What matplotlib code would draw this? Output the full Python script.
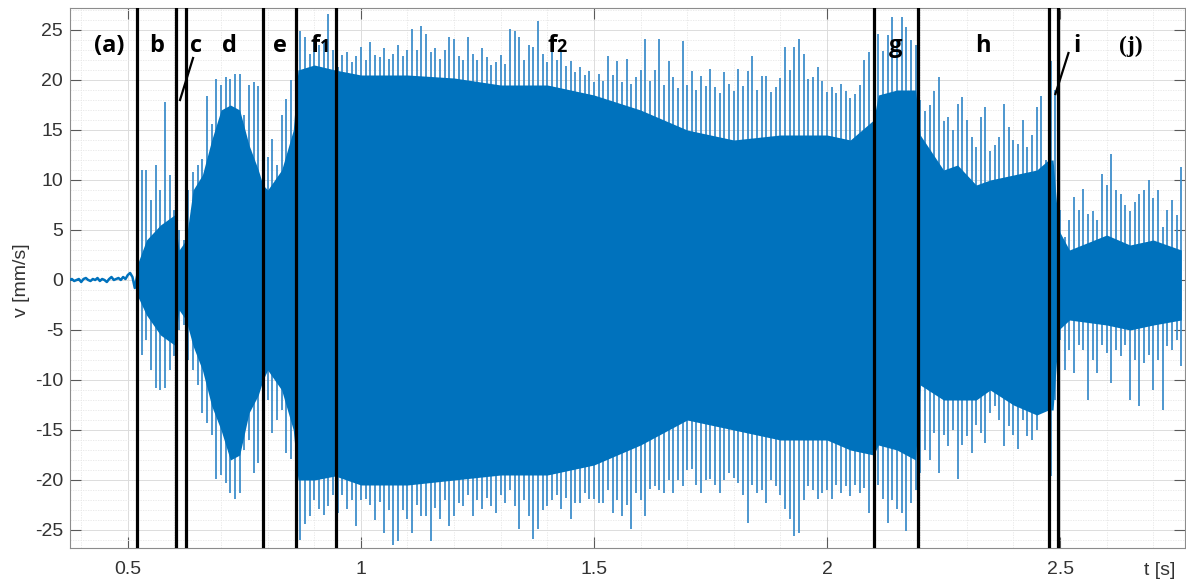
import numpy as np
import matplotlib
matplotlib.use("Agg")
import matplotlib.pyplot as plt
from matplotlib.ticker import MultipleLocator, FuncFormatter
import matplotlib.transforms as mtransforms

plt.rcParams['axes.unicode_minus'] = False

# ---- quiet lead-in (a) ----
t_quiet = np.linspace(0.375, 0.52, 30)
v_quiet = [0.0, 0.1, -0.1, 0.0, 0.1, -0.2, 0.1, 0.2, 0.0, -0.1,
           0.1, 0.0, 0.2, -0.1, 0.1, 0.0, -0.2, 0.1, 0.3, 0.0,
           0.1, 0.2, 0.0, 0.3, 0.1, 0.5, 0.7, 0.3, -0.8, 0.4]

# ---- peak velocities, one per 10 ms, from 0.52 s to 2.76 s ----
t_peak = np.round(np.arange(0.52, 2.765, 0.01), 2)
peak_up = [
    2.5, 11.0, 11.0, 8.0, 11.5, 9.0, 17.8, 10.5,
    7.0, 5.0, 4.0, 9.0, 10.8, 11.5, 12.1, 18.4, 15.6, 20.1,
    19.5, 20.3, 20.1, 20.6, 20.6, 16.5, 19.5, 19.8, 19.4, 13.0,
    12.3, 14.1, 11.5, 16.5, 18.1, 20.0, 23.0, 24.9, 24.3, 22.6,
    23.9, 23.5, 24.0, 26.6, 23.0, 21.3, 22.5, 22.8, 21.8, 22.4,
    23.3, 22.0, 23.8, 22.5, 22.3, 23.2, 22.1, 22.6, 23.5, 22.4,
    23.0, 25.1, 23.0, 25.4, 24.6, 22.8, 23.2, 22.1, 23.0, 24.3,
    24.1, 22.4, 22.0, 24.3, 22.6, 22.0, 23.2, 22.3, 21.5, 21.8,
    22.5, 21.6, 25.1, 24.9, 24.3, 22.0, 23.5, 23.3, 25.9, 22.6,
    21.8, 23.3, 22.0, 22.9, 21.4, 21.9, 20.8, 21.3, 20.5, 20.9,
    19.8, 20.6, 19.9, 22.4, 20.5, 21.9, 19.8, 22.1, 19.6, 20.3,
    21.0, 24.1, 19.9, 21.0, 24.1, 19.5, 21.9, 20.3, 19.2, 23.9,
    19.5, 20.9, 19.0, 20.4, 19.4, 21.1, 19.3, 18.7, 20.8, 19.6,
    18.9, 21.1, 19.4, 20.9, 22.4, 19.0, 20.4, 20.4, 18.8, 19.3,
    20.2, 23.3, 21.0, 23.3, 24.1, 22.6, 20.1, 20.3, 21.3, 19.9,
    18.8, 19.3, 18.7, 19.6, 18.9, 18.2, 18.6, 19.5, 22.0, 22.8,
    21.0, 24.6, 22.9, 24.5, 26.3, 24.0, 26.3, 25.3, 24.0, 23.5,
    18.0, 16.9, 17.5, 18.9, 20.3, 15.9, 16.3, 15.0, 17.6, 18.3,
    16.0, 14.3, 13.3, 16.3, 17.3, 12.9, 13.5, 14.3, 17.6, 15.3,
    14.0, 13.6, 16.0, 13.3, 14.5, 17.3, 18.4, 12.0, 21.9, 19.0,
    7.0, 4.3, 6.0, 8.3, 7.0, 9.1, 6.6, 6.9, 6.0, 10.6,
    9.5, 12.6, 9.0, 8.6, 7.5, 6.9, 7.8, 8.6, 9.0, 10.0,
    8.2, 9.0, 5.3, 7.0, 8.0, 6.5, 11.3]
peak_lo = [
    -2.0, -7.5, -6.0, -9.0, -10.8, -11.0, -10.8, -9.0,
    -7.6, -5.0, -4.5, -8.0, -9.0, -10.5, -13.3, -14.3, -15.5, -19.9,
    -19.5, -20.3, -21.3, -21.9, -21.3, -17.0, -16.0, -19.3, -18.3, -12.0,
    -12.0, -15.3, -14.0, -13.0, -17.3, -17.9, -21.0, -26.0, -24.4, -23.6,
    -22.0, -22.9, -23.5, -22.6, -21.5, -23.3, -21.5, -22.9, -22.0, -24.6,
    -22.0, -21.9, -22.5, -24.0, -22.2, -25.3, -23.0, -26.5, -26.1, -23.0,
    -23.9, -25.3, -22.5, -23.6, -23.6, -26.1, -22.8, -23.9, -22.0, -24.6,
    -23.6, -22.3, -22.6, -21.5, -23.6, -22.0, -22.9, -21.8, -22.6, -23.3,
    -21.5, -22.3, -21.0, -22.6, -24.9, -22.0, -23.6, -25.9, -24.9, -23.0,
    -22.6, -22.0, -21.5, -22.9, -21.8, -23.9, -22.3, -22.3, -21.3, -21.9,
    -21.9, -22.3, -22.3, -21.0, -23.3, -22.0, -23.6, -22.5, -24.9, -21.3,
    -22.0, -23.6, -20.9, -20.6, -21.0, -21.3, -20.0, -21.3, -20.0, -20.6,
    -19.0, -18.9, -20.5, -21.3, -20.0, -19.9, -20.5, -21.3, -20.0, -19.3,
    -19.8, -20.3, -21.5, -24.3, -20.5, -21.3, -21.0, -22.3, -20.0, -20.6,
    -21.5, -22.9, -23.9, -25.6, -25.3, -22.0, -20.6, -21.0, -21.9, -21.3,
    -21.0, -21.9, -20.5, -21.3, -20.6, -21.6, -20.5, -21.3, -20.8, -23.3,
    -22.0, -20.5, -21.9, -24.3, -22.0, -22.9, -23.3, -25.1, -22.3, -21.0,
    -19.3, -17.0, -18.0, -15.3, -19.3, -15.5, -16.6, -15.0, -19.9, -16.5,
    -15.6, -17.3, -14.5, -15.3, -16.3, -13.3, -12.6, -14.0, -16.6, -14.6,
    -15.5, -16.9, -14.0, -15.6, -16.0, -15.0, -13.0, -12.0, -19.6, -12.0,
    -6.0, -9.0, -7.0, -9.3, -6.5, -7.0, -12.0, -8.0, -9.3, -6.5,
    -7.3, -10.3, -7.0, -7.6, -6.5, -12.0, -8.0, -12.6, -8.3, -7.5,
    -11.0, -8.0, -13.0, -6.6, -7.0, -6.0, -8.6]

# ---- dense oscillation band (where the trace fills solid) ----
t_band = [0.52, 0.54, 0.57, 0.60, 0.61, 0.625, 0.64, 0.66, 0.68, 0.70,
          0.72, 0.74, 0.76, 0.78, 0.79, 0.80, 0.83, 0.855, 0.865, 0.90,
          0.945, 1.0, 1.1, 1.2, 1.3, 1.4, 1.5, 1.6, 1.7, 1.8,
          1.9, 2.0, 2.05, 2.1, 2.11, 2.15, 2.19, 2.2, 2.25, 2.28,
          2.32, 2.35, 2.4, 2.45, 2.475, 2.485, 2.497, 2.52, 2.6, 2.65,
          2.7, 2.76]
band_up = [1.5, 4.0, 5.5, 6.5, 3.0, 4.0, 9.0, 10.5, 14.0, 17.0,
           17.5, 17.0, 13.5, 11.0, 9.5, 9.0, 11.0, 15.0, 21.0, 21.5,
           21.0, 20.5, 20.5, 20.2, 19.5, 19.5, 18.5, 17.0, 15.0, 14.0,
           14.5, 14.5, 14.0, 16.0, 18.5, 19.0, 19.0, 14.5, 11.0, 11.5,
           9.5, 10.0, 10.5, 11.0, 12.0, 12.0, 5.0, 3.0, 4.5, 3.5,
           4.0, 3.0]
band_lo = [-1.5, -3.5, -5.5, -6.5, -3.0, -4.0, -6.6, -9.0, -12.6, -15.0,
           -18.0, -17.5, -13.3, -11.5, -10.0, -9.0, -11.0, -15.0, -20.0, -20.0,
           -19.6, -20.5, -20.5, -20.0, -19.5, -19.5, -18.5, -16.5, -14.0, -15.0,
           -16.0, -16.0, -17.0, -17.5, -16.5, -17.0, -18.0, -10.5, -12.0, -12.0,
           -12.0, -11.0, -12.5, -13.5, -13.0, -13.0, -5.0, -4.0, -4.5, -5.0,
           -4.5, -4.0]

# ---- phase boundaries and labels ----
t_bounds = [0.519, 0.603, 0.624, 0.790, 0.860, 0.946, 2.101, 2.195, 2.476, 2.496]
phase_names = ['(a)', 'b', 'c', 'd', 'e', 'g', 'h', 'i', '(j)']
phase_x = [0.460, 0.562, 0.646, 0.717, 0.827, 2.147, 2.334, 2.537, 2.651]
sub_names = [('f', '1'), ('f', '2')]
sub_x = [0.893, 1.400]

BLUE = '#0072BD'
SPIKE = '#3f8fcb'

fig = plt.figure(figsize=(11.86, 5.84), dpi=100)
ax = fig.add_axes([70 / 1186, 1 - 548 / 584, 1115 / 1186, 540 / 584])

ax.set_xlim(0.376, 2.768)
ax.set_ylim(-26.8, 27.2)

# grid
ax.xaxis.set_major_locator(MultipleLocator(0.5))
ax.xaxis.set_minor_locator(MultipleLocator(0.1))
ax.yaxis.set_major_locator(MultipleLocator(5))
ax.yaxis.set_minor_locator(MultipleLocator(1))
ax.grid(which='major', color='#dcdcdc', lw=0.7)
ax.grid(which='minor', color='#e6e6e6', lw=0.6, ls=(0, (1.5, 1.5)))
ax.set_axisbelow(True)

# trace
ax.plot(t_quiet, v_quiet, color=BLUE, lw=1.8, zorder=3)
ax.vlines(t_peak, 0, peak_up, color=SPIKE, lw=1.3, zorder=2)
ax.vlines(t_peak, 0, peak_lo, color=SPIKE, lw=1.3, zorder=2)
ax.fill_between(t_band, band_lo, band_up, color=BLUE, lw=0, zorder=3)

# phase boundaries
for tb in t_bounds:
    ax.axvline(tb, color='black', lw=2.3, zorder=5)

label_y = 22.8
for name, x in zip(phase_names, phase_x):
    fam = 'Liberation Serif' if name == '(j)' else 'Open Sans'
    ax.text(x, label_y, name, ha='center', va='baseline', fontsize=17,
            fontweight='bold', family=fam, color='black', zorder=6)
for (letter, digit), x in zip(sub_names, sub_x):
    ax.text(x, label_y, letter, ha='left', va='baseline', fontsize=17,
            fontweight='bold', family='Open Sans', color='black', zorder=6)
    ax.annotate(digit, xy=(x, label_y), xytext=(6.5, 0), textcoords='offset points',
                ha='left', va='baseline', fontsize=13, fontweight='bold',
                family='Open Sans', color='black', zorder=6)

# pointer strokes for the narrow phases c and i
ax.plot([0.612, 0.640], [18.0, 22.2], color='black', lw=1.6, zorder=6)
ax.plot([2.490, 2.518], [18.6, 22.7], color='black', lw=1.6, zorder=6)

# axes styling
for sp in ax.spines.values():
    sp.set_color('#8c8c8c')
    sp.set_linewidth(0.8)
ax.tick_params(which='major', direction='in', top=True, right=True, length=8,
               width=0.8, color='#5a5a5a', labelsize=14, labelcolor='#333333')
ax.tick_params(axis='x', which='major', pad=9)
ax.tick_params(axis='y', which='major', pad=5)
ax.tick_params(which='minor', length=0)
ax.xaxis.set_major_formatter(FuncFormatter(lambda v, p: '%g' % v))
ax.yaxis.set_major_formatter(FuncFormatter(lambda v, p: '%g' % v))
for lab in ax.get_xticklabels() + ax.get_yticklabels():
    lab.set_family('Liberation Sans')

trans = mtransforms.blended_transform_factory(ax.transData, ax.transAxes)
ax.text(2.713, -0.041, 't [s]', transform=trans, ha='center', va='center',
        fontsize=14, color='#333333', family='Liberation Sans')
fig.text(22 / 1186, 1 - 280 / 584, 'v [mm/s]', rotation=90, ha='center', va='center',
         fontsize=14, color='#333333', family='Liberation Sans')

fig.savefig('out.png', dpi=100)
